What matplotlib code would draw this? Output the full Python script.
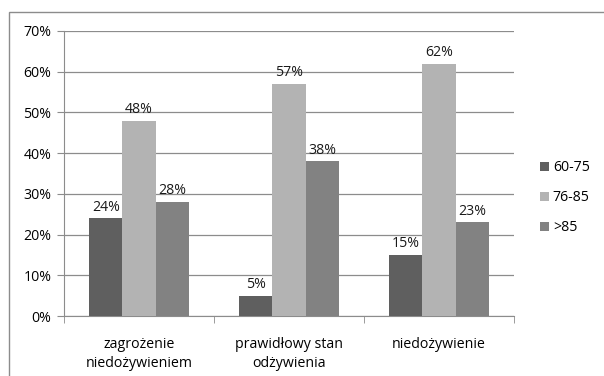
import matplotlib.pyplot as plt
import numpy as np
from matplotlib.patches import Rectangle

plt.rcParams['font.family'] = ['Open Sans', 'DejaVu Sans']

categories = ['zagrożenie\nniedożywieniem', 'prawidłowy stan\nodżywienia', 'niedożywienie']
groups = ['60-75', '76-85', '>85']
values = {
    '60-75': [24, 5, 15],
    '76-85': [48, 57, 62],
    '>85': [28, 38, 23],
}
colors = ['#5f5f5f', '#b3b3b3', '#828282']
fs = 10.2

fig = plt.figure(figsize=(6.04, 3.76), dpi=100)
ax = fig.add_axes([64 / 604, 1 - 316 / 376, 450 / 604, 285 / 376])

# outer chart frame (only left and top edges fall inside the image)
fig.patches.append(Rectangle((9 / 604, -0.1), 1.2, 0.1 + 364 / 376,
                             transform=fig.transFigure, fill=False,
                             edgecolor='#8c8c8c', linewidth=1.0))

x = np.arange(len(categories))
w = 0.222
for i, (g, c) in enumerate(zip(groups, colors)):
    pos = x + (i - 1) * w
    ax.bar(pos, values[g], width=w, color=c, label=g, zorder=3)
    for p, v in zip(pos, values[g]):
        ax.text(p, v + 0.9, f'{v}%', ha='center', va='bottom', fontsize=fs,
                color='#1a1a1a')

ax.set_xlim(-0.5, 2.5)
ax.set_ylim(0, 70)
ax.set_yticks(range(0, 71, 10))
ax.set_yticklabels([f'{t}%' for t in range(0, 71, 10)], fontsize=fs)
ax.set_xticks(x)
ax.set_xticklabels(categories, fontsize=fs, linespacing=1.4)
ax.set_xticks([-0.5, 0.5, 1.5, 2.5], minor=True)
ax.tick_params(axis='x', which='major', length=0, pad=15)
ax.tick_params(axis='x', which='minor', length=5, color='#8c8c8c')
ax.tick_params(axis='y', length=5, color='#8c8c8c', pad=4)
ax.grid(axis='y', color='#8c8c8c', linewidth=0.9, zorder=0)
for s in ['top', 'right']:
    ax.spines[s].set_visible(False)
for s in ['left', 'bottom']:
    ax.spines[s].set_color('#8c8c8c')

ax.legend(loc='center left', bbox_to_anchor=((540 - 64) / 450, 0.415),
          frameon=False, fontsize=fs, handlelength=0.6, handleheight=0.6,
          handletextpad=0.3, labelspacing=1.05, borderpad=0, borderaxespad=0)

fig.savefig('out.png', dpi=100)
